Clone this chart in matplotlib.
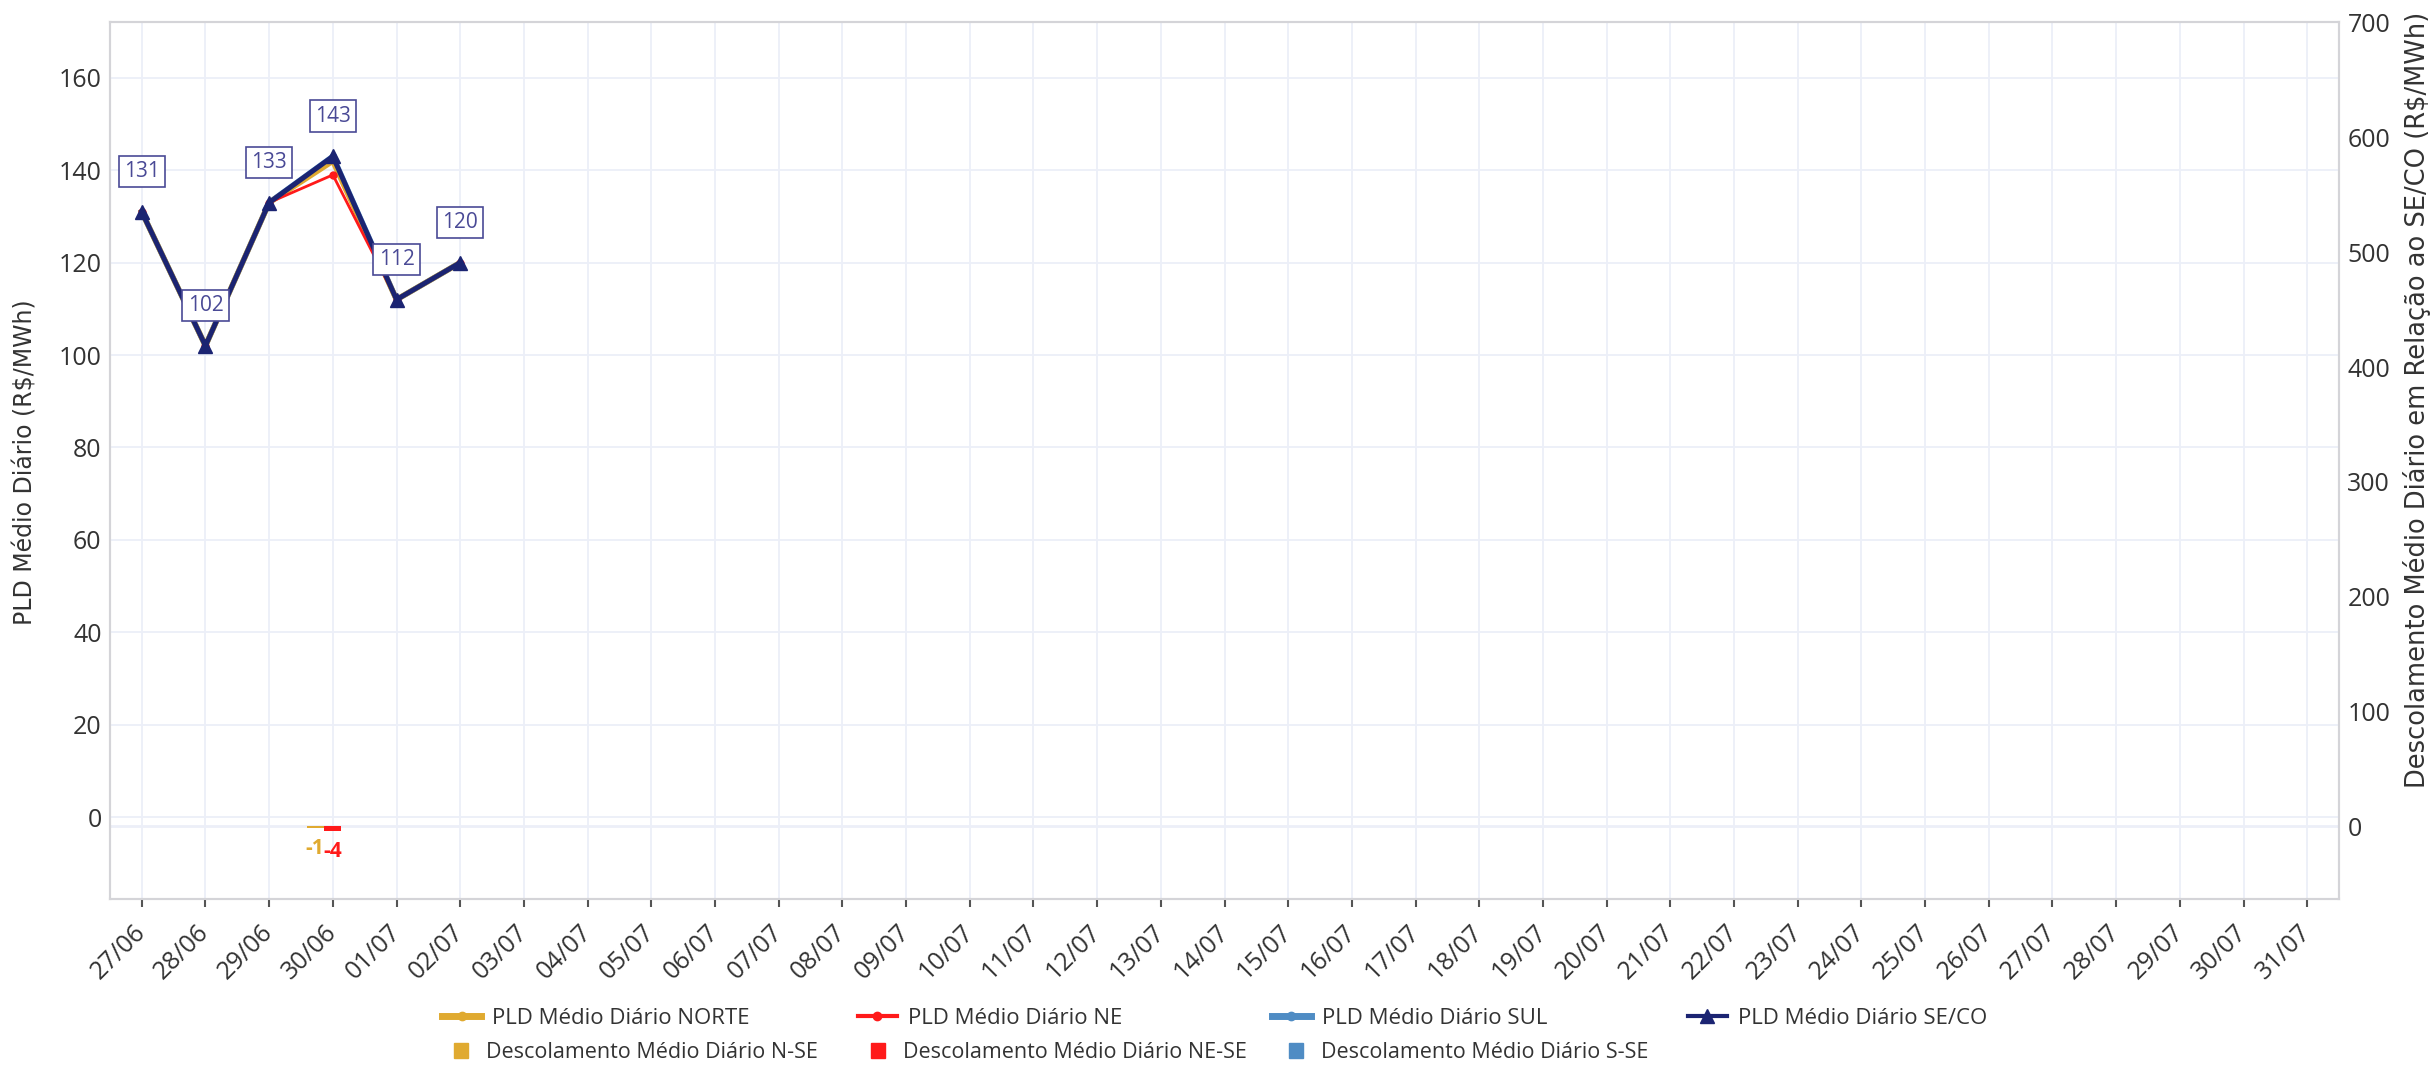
import matplotlib
matplotlib.use("Agg")
import matplotlib.pyplot as plt
import numpy as np
from matplotlib.lines import Line2D
from matplotlib.patches import Patch

plt.rcParams.update({
    'font.family': ['Open Sans', 'DejaVu Sans'],
    'font.size': 15,
})

# ====================
# dados
# ====================
dias = ["27/06", "28/06", "29/06", "30/06", "01/07", "02/07", "03/07", "04/07",
        "05/07", "06/07", "07/07", "08/07", "09/07", "10/07", "11/07", "12/07",
        "13/07", "14/07", "15/07", "16/07", "17/07", "18/07", "19/07", "20/07",
        "21/07", "22/07", "23/07", "24/07", "25/07", "26/07", "27/07", "28/07",
        "29/07", "30/07", "31/07"]

pld_norte = [131, 102, 133, 142, 112, 120]
pld_ne = [131, 102, 133, 139, 112, 120]
pld_sul = [131, 102, 133, 143, 112, 120]
pld_seco = [131, 102, 133, 143, 112, 120]
rotulos_seco = ["131", "102", "133", "143", "112", "120"]

desc_n_se = [0, 0, 0, -1, 0, 0]
desc_ne_se = [0, 0, 0, -4, 0, 0]
desc_s_se = [0, 0, 0, 0, 0, 0]

c_norte = "#e0aa30"
c_ne = "#ff1a1a"
c_sul = "#4f8cc4"
c_seco = "#1b2472"
c_label = "#4a4a96"
c_grid = "#eceff8"
c_txt = "#333333"

fig = plt.figure(figsize=(24.32, 10.68), dpi=100)
ax = fig.add_axes([0.0452, 0.158, 0.9166, 0.821])
ax2 = ax.twinx()

x_all = np.arange(len(dias))
x = np.arange(len(pld_seco))

# grade vertical atras das barras
for xv in x_all:
    ax2.axvline(xv, color=c_grid, lw=1.3, zorder=0)
ax2.axhline(0, color=c_grid, lw=2, zorder=1)

# barras de descolamento (eixo direito)
w = 0.27
ax2.bar(x - w, desc_n_se, w, color=c_norte, zorder=3)
ax2.bar(x, desc_ne_se, w, color=c_ne, zorder=3)
ax2.bar(x + w, desc_s_se, w, color=c_sul, zorder=3)
for xi, v in zip(x, desc_n_se):
    if v != 0:
        ax2.text(xi - 0.29, v - 9, f"{v}", color=c_norte, ha='center', va='top',
                 fontsize=15, fontweight='bold')
for xi, v in zip(x, desc_ne_se):
    if v != 0:
        ax2.text(xi, v - 9, f"{v}", color=c_ne, ha='center', va='top',
                 fontsize=15, fontweight='bold')

# linhas PLD (eixo esquerdo)
ax.plot(x, pld_sul, color=c_sul, lw=4, marker='o', ms=4, zorder=4)
ax.plot(x, pld_norte, color=c_norte, lw=4, marker='o', ms=4, zorder=5)
ax.plot(x, pld_ne, color=c_ne, lw=2, marker='o', ms=5, zorder=6)
ax.plot(x, pld_seco, color=c_seco, lw=3.6, marker='^', ms=10, zorder=7)
for xi, v, t in zip(x, pld_seco, rotulos_seco):
    ax.annotate(t, (xi, v), xytext=(0, 29), textcoords='offset points',
                ha='center', va='center', fontsize=15, color=c_label, zorder=10,
                bbox=dict(boxstyle='square,pad=0.25', fc='white', ec=c_label, lw=1.2))

ax.set_zorder(ax2.get_zorder() + 1)
ax.patch.set_visible(False)

ax.set_xlim(-0.5, len(dias) - 0.5)
ax.set_ylim(-17.8, 172)
ax2.set_ylim(-63.4, 700)
ax.set_yticks(np.arange(0, 161, 20))
ax2.set_yticks(np.arange(0, 701, 100))
ax.set_xticks(x_all)
ax.set_xticklabels(dias, rotation=45, ha='right', va='center', rotation_mode='anchor')

ax.yaxis.grid(True, color=c_grid, lw=1.3)
ax.set_axisbelow(True)
for a in (ax, ax2):
    for s in a.spines.values():
        s.set_color('#d4d4d8')
        s.set_linewidth(1.5)
    a.tick_params(axis='y', length=0, labelsize=18, colors=c_txt, pad=6)
ax.tick_params(axis='x', length=6, width=1.5, color='#555555', labelsize=18,
               labelcolor=c_txt, pad=15)

ax.set_ylabel("PLD Médio Diário (R$/MWh)", fontsize=17, family='DejaVu Sans', color=c_txt)
ax2.set_ylabel("Descolamento Médio Diário em Relação ao SE/CO (R$/MWh)", fontsize=18.5,
               family='DejaVu Sans', color=c_txt)
ax.yaxis.set_label_coords(-0.0325, 0.498)
ax2.yaxis.set_label_coords(1.0285, 0.57)

# legenda: cada item posicionado
h1 = [Line2D([], [], color=c_norte, lw=5, marker='o', ms=6),
      Line2D([], [], color=c_ne, lw=3, marker='o', ms=6),
      Line2D([], [], color=c_sul, lw=5, marker='o', ms=6),
      Line2D([], [], color=c_seco, lw=3, marker='^', ms=10)]
l1 = ["PLD Médio Diário NORTE", "PLD Médio Diário NE", "PLD Médio Diário SUL", "PLD Médio Diário SE/CO"]
x1 = [0.1818, 0.3527, 0.523, 0.694]
h2 = [Patch(color=c_norte), Patch(color=c_ne), Patch(color=c_sul)]
l2 = ["Descolamento Médio Diário N-SE", "Descolamento Médio Diário NE-SE", "Descolamento Médio Diário S-SE"]
x2 = [0.1865, 0.358, 0.530]

for h, l, xp in zip(h1, l1, x1):
    lg = fig.legend([h], [l], loc='center left', bbox_to_anchor=(xp, 0.0464), frameon=False,
                    prop={'size': 16}, handlelength=1.75, handletextpad=0.5,
                    borderpad=0, borderaxespad=0)
    lg.get_texts()[0].set_color(c_txt)
for h, l, xp in zip(h2, l2, x2):
    lg = fig.legend([h], [l], loc='center left', bbox_to_anchor=(xp, 0.0145), frameon=False,
                    prop={'size': 15.5}, handlelength=0.65, handleheight=0.7,
                    handletextpad=0.85, borderpad=0, borderaxespad=0)
    lg.get_texts()[0].set_color(c_txt)

fig.savefig("out.png", dpi=100, facecolor='white')
